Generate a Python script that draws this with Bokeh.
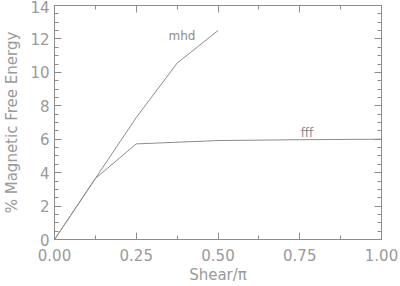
from bokeh.plotting import figure
from bokeh.models import LinearAxis, FixedTicker, Range1d, NumeralTickFormatter, CustomJSTickFormatter
from bokeh.core.properties import value
from bokeh.embed import file_html
from bokeh.resources import INLINE

shear = [0.0, 0.125, 0.25, 0.375, 0.5]
mhd = [0.0, 3.65, 7.3, 10.55, 12.5]
shear_fff = [0.0, 0.125, 0.25, 0.5, 0.75, 1.0]
fff = [0.0, 3.65, 5.72, 5.92, 5.97, 6.0]
xticks = [0.0, 0.25, 0.5, 0.75, 1.0]
xminor = [0.125, 0.375, 0.625, 0.875]
yticks = [0, 2, 4, 6, 8, 10, 12, 14]
yminor = [i * 0.5 for i in range(29) if i % 4 != 0]
labels = ["mhd", "fff"]
label_x = [0.39, 0.772]
label_y = [12.2, 6.4]

GRAY = "#8c8c8c"
TXT = "#9a9a9a"
FONT = "DejaVu Sans"

p = figure(width=400, height=286, output_backend="svg", toolbar_location=None,
           x_range=Range1d(0, 1), y_range=Range1d(0, 14),
           x_axis_label="Shear/π", y_axis_label="% Magnetic Free Energy",
           min_border_left=52, min_border_right=19, min_border_top=5, min_border_bottom=47)
p.grid.visible = False
p.background_fill_color = "white"
p.border_fill_color = "white"
p.outline_line_color = GRAY

def style(ax, ticks, minor):
    ax.ticker = FixedTicker(ticks=ticks, minor_ticks=minor)
    ax.axis_line_color = GRAY
    ax.major_tick_line_color = GRAY
    ax.minor_tick_line_color = GRAY
    ax.major_tick_in = 7
    ax.major_tick_out = 0
    ax.minor_tick_in = 4
    ax.minor_tick_out = 0
    ax.major_label_text_color = TXT
    ax.major_label_text_font = FONT
    ax.major_label_text_font_size = "15px"
    ax.axis_label_text_color = TXT
    ax.axis_label_text_font = FONT
    ax.axis_label_text_font_size = "15px"
    ax.axis_label_text_font_style = "normal"

style(p.xaxis[0], xticks, xminor)
style(p.yaxis[0], yticks, yminor)
p.xaxis[0].formatter = NumeralTickFormatter(format="0.00")
p.xaxis[0].major_label_standoff = 9
p.xaxis[0].axis_label_standoff = 2
p.yaxis[0].major_label_standoff = 5
p.yaxis[0].axis_label_standoff = 6

top = LinearAxis()
right = LinearAxis()
style(top, xticks, xminor)
style(right, yticks, yminor)
for ax in (top, right):
    ax.formatter = CustomJSTickFormatter(code="return '';")
    ax.major_label_standoff = 0
p.add_layout(top, "above")
p.add_layout(right, "right")

p.line(shear, mhd, line_color=GRAY, line_width=1)
p.line(shear_fff, fff, line_color=GRAY, line_width=1)
p.text(label_x, label_y, text=labels, text_color=GRAY, text_font=value(FONT),
       text_font_size="12px", text_align="center", text_baseline="middle")

open("out.html", "w").write(file_html(p, INLINE))
